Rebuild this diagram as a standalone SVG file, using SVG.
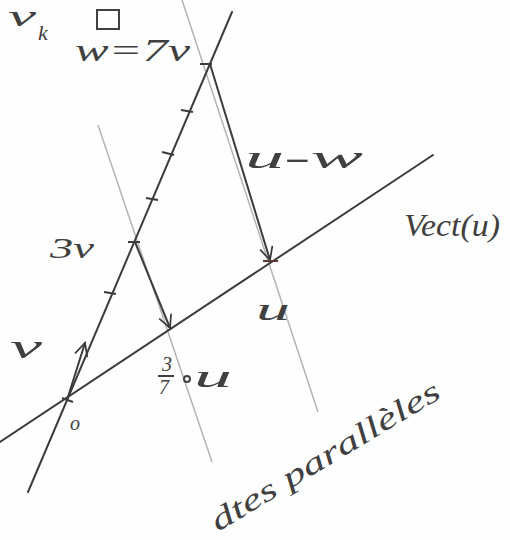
<svg xmlns="http://www.w3.org/2000/svg" width="510" height="540" viewBox="0 0 510 540">
<style>
.dark{stroke:#3c3c3c;stroke-width:2;fill:none;stroke-linecap:round}
.light{stroke:#b4b4b4;stroke-width:1.5;fill:none}
.tick{stroke:#3c3c3c;stroke-width:2;fill:none}
.lbl{font-family:"Liberation Serif",serif;font-style:italic;fill:#404040}
</style>
<defs>
<marker id="chev" viewBox="0 0 20 20" refX="18" refY="10" markerWidth="16" markerHeight="16" markerUnits="userSpaceOnUse" orient="auto">
<path d="M2,2 L18,10 L2,18" fill="none" stroke="#3c3c3c" stroke-width="2.2"/>
</marker>
</defs>
<rect width="510" height="540" fill="#fefefe"/>
<g id="connectors">
<line class="light" x1="182" y1="0" x2="318" y2="412"/>
<line class="light" x1="98" y1="125" x2="212" y2="462"/>
<line class="dark" x1="0" y1="442" x2="433" y2="155"/>
<line class="dark" x1="28" y1="492" x2="232" y2="12" stroke-width="1.6"/>
<line class="dark" x1="67" y1="400" x2="85" y2="343" marker-end="url(#chev)" stroke-width="1.6"/>
<line class="dark" x1="135" y1="242" x2="170" y2="328" marker-end="url(#chev)" stroke-width="1.6"/>
<line class="dark" x1="210" y1="64" x2="270" y2="260" marker-end="url(#chev)"/>
<g class="tick">
<line x1="200" y1="64" x2="212" y2="64"/>
<line x1="181" y1="110" x2="193" y2="112"/>
<line x1="162" y1="152" x2="174" y2="155"/>
<line x1="146" y1="198" x2="158" y2="200"/>
<line x1="128" y1="242" x2="140" y2="242"/>
<line x1="104" y1="292" x2="116" y2="294"/>
<line x1="62" y1="398" x2="73" y2="402"/>
<line x1="263" y1="261" x2="278" y2="261" stroke="#5a3a30"/>
</g>
</g>
<g id="labels">
<text class="lbl" x="8" y="26" font-size="30" textLength="28" lengthAdjust="spacingAndGlyphs">v</text>
<text class="lbl" x="38" y="40" font-size="22">k</text>
<rect x="97" y="10" width="22" height="19" fill="none" stroke="#404040" stroke-width="2"/>
<text class="lbl" x="75" y="61" font-size="32" textLength="115" lengthAdjust="spacingAndGlyphs">w=7v</text>
<text class="lbl" x="245" y="168" font-size="32" textLength="118" lengthAdjust="spacingAndGlyphs">u-w</text>
<text class="lbl" x="404" y="236" font-size="32" textLength="96" lengthAdjust="spacingAndGlyphs">Vect(u)</text>
<text class="lbl" x="50" y="258" font-size="30" textLength="44" lengthAdjust="spacingAndGlyphs">3v</text>
<text class="lbl" x="256" y="320" font-size="32" textLength="34" lengthAdjust="spacingAndGlyphs">u</text>
<text class="lbl" x="10" y="358" font-size="34" textLength="32" lengthAdjust="spacingAndGlyphs">v</text>
<text class="lbl" x="162" y="371" font-size="20">3</text>
<line x1="158" y1="376" x2="174" y2="376" stroke="#404040" stroke-width="2"/>
<text class="lbl" x="159" y="394" font-size="20">7</text>
<circle cx="187" cy="379" r="3" fill="none" stroke="#404040" stroke-width="2"/>
<text class="lbl" x="194" y="387" font-size="32" textLength="38" lengthAdjust="spacingAndGlyphs">u</text>
<text class="lbl" x="70" y="430" font-size="20">o</text>
<text class="lbl" font-size="31" transform="translate(218,532) rotate(-31)" textLength="262" lengthAdjust="spacingAndGlyphs">dtes parallèles</text>
</g>
</svg>
